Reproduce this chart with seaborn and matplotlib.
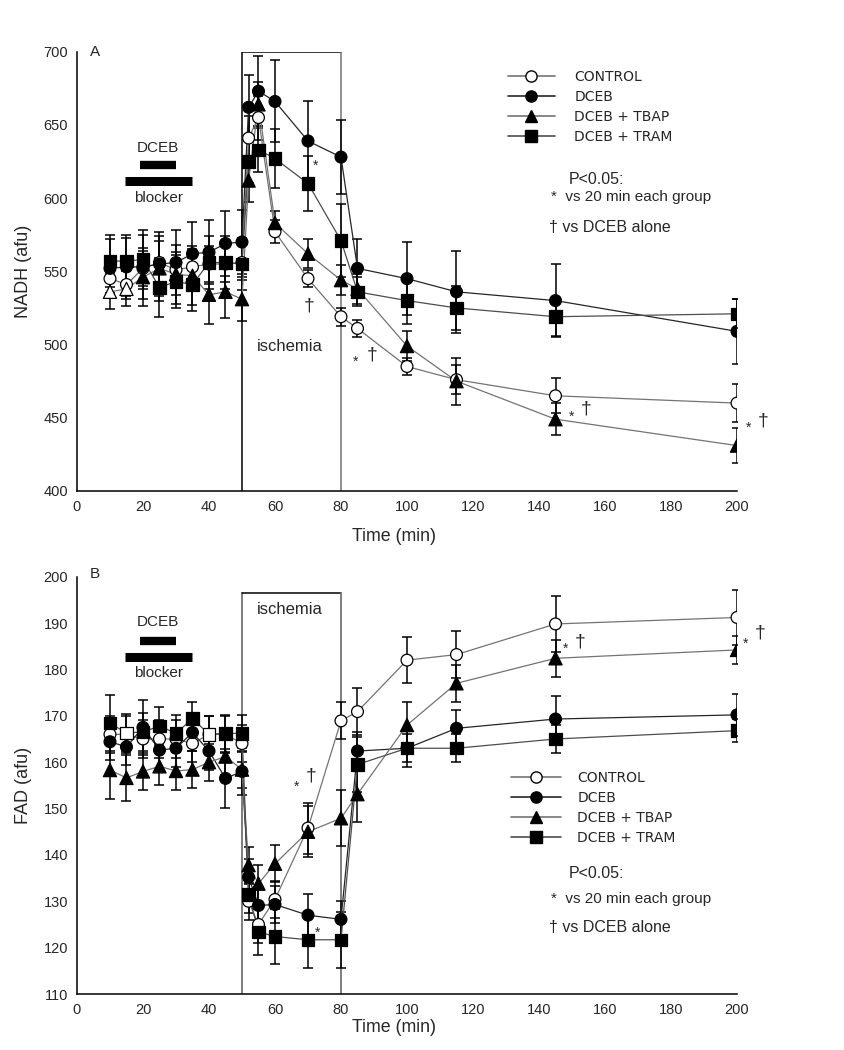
import matplotlib
matplotlib.use("Agg")
import matplotlib.pyplot as plt
import seaborn as sns
import numpy as np
from matplotlib.lines import Line2D

sns.set_style("white")
plt.rcParams['font.family'] = ['Liberation Sans', 'DejaVu Sans']

# ---------------- data ----------------
time = [10, 15, 20, 25, 30, 35, 40, 45, 50, 52, 55, 60, 70, 80, 85, 100, 115, 145, 200]
series_names = ["CONTROL", "DCEB", "DCEB + TBAP", "DCEB + TRAM"]

# Panel A : NADH (afu)
nadh_control = [545, 541, 552, 556, 551, 553, 555, 555, 556, 641, 655, 577, 545, 519, 511, 485, 476, 465, 460]
nadh_dceb    = [552, 553, 553, 555, 556, 562, 563, 569, 570, 662, 673, 666, 639, 628, 552, 545, 536, 530, 509]
nadh_tbap    = [536, 538, 546, 552, 548, 547, 534, 536, 531, 612, 664, 583, 562, 544, 538, 499, 475, 449, 431]
nadh_tram    = [557, 557, 558, 539, 543, 541, 556, 556, 555, 625, 633, 627, 610, 571, 536, 530, 525, 519, 521]
nadh_control_sem = [10, 10, 12, 15, 12, 12, 12, 12, 12, 15, 15, 8, 6, 6, 6, 6, 10, 12, 13]
nadh_dceb_sem    = [20, 20, 22, 22, 22, 22, 22, 22, 22, 22, 24, 28, 27, 25, 20, 25, 28, 25, 22]
nadh_tbap_sem    = [12, 12, 20, 22, 20, 20, 20, 18, 15, 15, 15, 8, 10, 10, 10, 10, 16, 11, 12]
nadh_tram_sem    = [18, 18, 20, 20, 18, 18, 18, 18, 18, 15, 15, 20, 19, 25, 10, 16, 15, 13, 10]
nadh_open_tbap_times = [10, 15]

# Panel B : FAD (afu)
fad_control = [166, 166, 165, 165, 165, 164, 166, 166, 164, 130, 125, 130.4, 145.8, 168.9, 170.9, 182, 183.2, 189.8, 191.2]
fad_dceb    = [164.4, 163.3, 167.5, 162.6, 163, 166.4, 162.4, 156.5, 158, 135.2, 129.1, 129.3, 127, 126.1, 162.4, 163, 167.3, 169.3, 170.2]
fad_tbap    = [158.3, 156.6, 158, 159.1, 158.1, 158.4, 160, 161.2, 158.4, 137.8, 133.8, 138.1, 145, 147.9, 153.1, 168, 177, 182.4, 184.2]
fad_tram    = [168.4, 166.3, 166.5, 167.8, 166.2, 169.4, 166, 166.2, 166.2, 131.5, 123.4, 122.4, 121.7, 121.7, 159.5, 163, 163, 165, 166.8]
fad_control_sem = [4, 4, 4, 4, 4, 4, 4, 4, 4, 4, 4, 4, 5.5, 4, 5, 5, 5, 6, 6]
fad_dceb_sem    = [4, 4, 6, 4, 4, 4, 4, 6.4, 5, 4, 4, 4, 4.5, 4, 4, 4, 4, 5, 4.5]
fad_tbap_sem    = [6.3, 5, 4, 4, 4, 4, 4, 4, 4, 4, 4, 4, 5.5, 6, 6, 5, 4, 4, 3]
fad_tram_sem    = [6, 4, 4, 4, 4, 3.6, 4, 4, 4, 4, 5, 6, 6, 6, 6, 3, 3, 3, 2.5]
fad_open_tram_times = [15, 40]

ischemia = (50, 80)
dceb_bar = (19, 30)
blocker_bar = (14.5, 35)

# ---------------- styles ----------------
styles = {
    "CONTROL":     dict(marker="o", mfc="white", line="0.45"),
    "DCEB":        dict(marker="o", mfc="black", line="0.15"),
    "DCEB + TBAP": dict(marker="^", mfc="black", line="0.45"),
    "DCEB + TRAM": dict(marker="s", mfc="black", line="0.3"),
}
msize = {"o": 8.5, "^": 9.5, "s": 9}

fig = plt.figure(figsize=(8.45, 10.5), dpi=100)
axA = fig.add_axes([0.0911, 0.5324, 0.7811, 0.4184])
axB = fig.add_axes([0.0911, 0.0533, 0.7811, 0.3975])


def draw_panel(ax, vals, sems, open_name, open_times):
    handles = []
    for name, v, s in zip(series_names, vals, sems):
        ax.errorbar(time, v, yerr=s, fmt="none", ecolor="black", elinewidth=1.1,
                    capsize=3.5, capthick=1.1, zorder=2)
    for name, v in zip(series_names, vals):
        st = styles[name]
        sns.lineplot(x=time, y=v, ax=ax, color=st["line"], lw=0.9, zorder=3,
                     estimator=None, sort=False, legend=False)
    for name, v in zip(series_names, vals):
        st = styles[name]
        fc = ["white" if (name == open_name and t in open_times) else st["mfc"] for t in time]
        ax.scatter(time, v, marker=st["marker"], s=msize[st["marker"]] ** 2,
                   facecolors=fc, edgecolors="black", linewidths=0.9, zorder=4)
        handles.append(Line2D([0], [0], color=st["line"], lw=1.2, marker=st["marker"],
                              markersize=msize[st["marker"]] * 0.95, markerfacecolor=st["mfc"],
                              markeredgecolor="black", label=name))
    return handles


hA = draw_panel(axA, [nadh_control, nadh_dceb, nadh_tbap, nadh_tram],
                [nadh_control_sem, nadh_dceb_sem, nadh_tbap_sem, nadh_tram_sem],
                "DCEB + TBAP", nadh_open_tbap_times)
hB = draw_panel(axB, [fad_control, fad_dceb, fad_tbap, fad_tram],
                [fad_control_sem, fad_dceb_sem, fad_tbap_sem, fad_tram_sem],
                "DCEB + TRAM", fad_open_tram_times)

for ax, (ylo, yhi, maj, mnr) in ((axA, (400, 700, 50, 25)), (axB, (110, 200, 10, 5))):
    ax.set_xlim(0, 200)
    ax.set_ylim(ylo, yhi)
    ax.set_xticks(np.arange(0, 201, 20))
    ax.set_xticks(np.arange(0, 201, 10), minor=True)
    ax.set_yticks(np.arange(ylo, yhi + 1, maj))
    ax.set_yticks(np.arange(ylo, yhi + 1, mnr), minor=True)
    ax.tick_params(axis="both", which="major", direction="inout", length=7, width=1,
                   labelsize=10.5, color="black", pad=3)
    ax.tick_params(axis="both", which="minor", direction="inout", length=5, width=1, color="black")
    for sp in ("top", "right"):
        ax.spines[sp].set_visible(False)
    for sp in ("left", "bottom"):
        ax.spines[sp].set_color("black")
        ax.spines[sp].set_linewidth(1.1)
    ax.set_xlabel("Time (min)", fontsize=12.8)
    ax.patch.set_alpha(0)

axA.xaxis.set_label_coords(0.48, -0.085)
axB.xaxis.set_label_coords(0.48, -0.061)
axA.set_ylabel("NADH (afu)", fontsize=13, labelpad=8)
axB.set_ylabel("FAD (afu)", fontsize=13, labelpad=8)

# ischemia boxes
axA.plot([ischemia[0], ischemia[0], ischemia[1]], [400, 700, 700], color="black", lw=1.1, zorder=1)
axA.plot([ischemia[1], ischemia[1]], [400, 700], color="0.45", lw=1.1, zorder=1)
axB.plot([ischemia[0], ischemia[0]], [110, 196.5], color="0.45", lw=1.3, zorder=1)
axB.plot([ischemia[0], ischemia[1]], [196.5, 196.5], color="black", lw=1.1, zorder=1)
axB.plot([ischemia[1], ischemia[1]], [110, 196.5], color="0.45", lw=1.3, zorder=1)

axA.text(64.5, 499, "ischemia", fontsize=12, ha="center", va="center")
axB.text(64.5, 193, "ischemia", fontsize=12, ha="center", va="center")

# panel letters
axA.text(5.5, 700, "A", fontsize=11, ha="center", va="center")
axB.text(5.5, 200.5, "B", fontsize=11, ha="center", va="center")

# drug bars
for ax, (ytxt, ybar1, ybar2, yblk) in ((axA, (634, 622.7, 611.8, 600)),
                                        (axB, (190.2, 186.2, 182.7, 179.2))):
    ax.text(np.mean(dceb_bar), ytxt, "DCEB", fontsize=11, ha="center", va="center")
    ax.plot(list(dceb_bar), [ybar1, ybar1], color="black", lw=6, solid_capstyle="butt")
    ax.plot(list(blocker_bar), [ybar2, ybar2], color="black", lw=6.5, solid_capstyle="butt")
    ax.text(np.mean(blocker_bar), yblk, "blocker", fontsize=11, ha="center", va="center")

# significance notes
fs_note = 11.5
axA.text(157.5, 612.5, "P<0.05:", fontsize=fs_note, ha="center", va="center")
axA.text(143.5, 601, "*  vs 20 min each group", fontsize=fs_note - 0.5, ha="left", va="center")
axA.text(143.0, 580, "† vs DCEB alone", fontsize=fs_note, ha="left", va="center")
axB.text(157.5, 136, "P<0.05:", fontsize=fs_note, ha="center", va="center")
axB.text(143.5, 130.6, "*  vs 20 min each group", fontsize=fs_note - 0.5, ha="left", va="center")
axB.text(143.0, 124.4, "† vs DCEB alone", fontsize=fs_note, ha="left", va="center")

# stars and daggers
def mark(ax, x, y, s, size):
    ax.text(x, y, s, fontsize=size, ha="center", va="center")

mark(axA, 72.4, 622, "*", 10)
mark(axA, 70.3, 526, "†", 14)
mark(axA, 84.5, 488, "*", 10); mark(axA, 89.3, 493, "†", 14)
mark(axA, 150.0, 451, "*", 10); mark(axA, 154.4, 456, "†", 14)
mark(axA, 203.5, 443, "*", 10); mark(axA, 208.0, 448, "†", 14)

mark(axB, 66.6, 154.7, "*", 10); mark(axB, 71.0, 157, "†", 14)
mark(axB, 73.0, 123.2, "*", 10)
mark(axB, 148.0, 184.5, "*", 10); mark(axB, 152.5, 186, "†", 14)
mark(axB, 202.5, 185.5, "*", 10); mark(axB, 207.0, 187.8, "†", 14)

# legends
legA = fig.legend(handles=hA, loc="upper left", bbox_to_anchor=(502 / 845, 1 - 64 / 1050),
                  frameon=False, prop={"family": "DejaVu Sans", "size": 10},
                  handlelength=3.4, handletextpad=1.4, labelspacing=0.45, borderaxespad=0)
legB = fig.legend(handles=hB, loc="upper left", bbox_to_anchor=(505 / 845, 1 - 765 / 1050),
                  frameon=False, prop={"family": "DejaVu Sans", "size": 10},
                  handlelength=3.6, handletextpad=1.2, labelspacing=0.45, borderaxespad=0)

fig.savefig("out.png", dpi=100, facecolor="white")
